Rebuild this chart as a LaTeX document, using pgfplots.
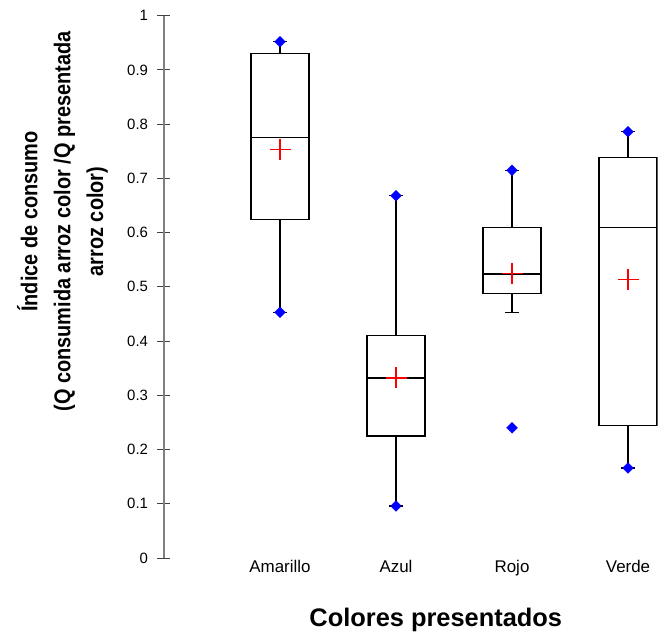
\documentclass[border=0pt]{standalone}
\usepackage{fontspec}
\setmainfont{Liberation Sans}
\newfontfamily\ylabfont{Liberation Sans}[FakeStretch=0.87]
\usepackage{pgfplots}
\pgfplotsset{compat=1.18}
\usepgfplotslibrary{statistics}

\begin{document}
\begin{tikzpicture}
\begin{axis}[
  scale only axis, width=493.6bp, height=542.3bp,
  xmin=0, xmax=4.255, ymin=0, ymax=1,
  axis lines=left, axis line style={-},
  x axis line style={draw=none},
  y axis line style={draw=black!50, line width=1.3bp},
  xtick={1,2,3,4}, xticklabels={Amarillo,Azul,Rojo,Verde},
  xtick style={draw=none},
  ytick={0,0.1,0.2,0.3,0.4,0.5,0.6,0.7,0.8,0.9,1},
  tick align=center, major tick length=13bp,
  ytick style={black!75, line width=0.9bp},
  /pgf/number format/assume math mode=true,
  yticklabel style={font=\fontsize{15}{15}\selectfont, xshift=-6bp},
  xticklabel style={font=\fontsize{17}{17}\selectfont, anchor=base, yshift=-8bp},
  xlabel={Colores presentados},
  xlabel style={at={([yshift=-68.7bp]axis description cs:0.5506,0)}, anchor=base, font=\bfseries\fontsize{25.5}{25.5}\selectfont},
  ylabel={Índice de consumo\\(Q consumida arroz color /Q presentada\\arroz color)},
  ylabel style={at={([xshift=-101.5bp]axis description cs:0,0.6205)}, anchor=center, align=center, font=\ylabfont\bfseries\fontsize{23}{33}\selectfont},
  boxplot/draw direction=y,
]
\coordinate (O) at (axis cs:0,0);
% Amarillo
\addplot[draw=black, line width=1.4bp, solid, mark=none, boxplot prepared={draw position=1, lower whisker=0.453, lower quartile=0.624, median=0.775, upper quartile=0.930, upper whisker=0.952, box extend=0.5, whisker extend=0.12}] coordinates {};
% Azul
\addplot[draw=black, line width=1.4bp, solid, mark=none, boxplot prepared={draw position=2, lower whisker=0.096, lower quartile=0.225, median=0.332, upper quartile=0.410, upper whisker=0.668, box extend=0.5, whisker extend=0.12}] coordinates {};
% Rojo
\addplot[draw=black, line width=1.4bp, solid, mark=none, boxplot prepared={draw position=3, lower whisker=0.453, lower quartile=0.488, median=0.524, upper quartile=0.609, upper whisker=0.715, box extend=0.5, whisker extend=0.12}] coordinates {};
% Verde
\addplot[draw=black, line width=1.4bp, solid, mark=none, boxplot prepared={draw position=4, lower whisker=0.166, lower quartile=0.244, median=0.609, upper quartile=0.738, upper whisker=0.786, box extend=0.5, whisker extend=0.12}] coordinates {};
% minimos, maximos y atipicos
\addplot[only marks, mark=square*, mark size=3.8bp, mark options={rotate=45, fill=blue, draw=blue}]
  coordinates {(1,0.952) (1,0.453) (2,0.668) (2,0.096) (3,0.715) (3,0.240) (4,0.786) (4,0.166)};
% medias
\addplot[only marks, mark=+, mark size=10.5bp, mark options={draw=red, line width=1.3bp}]
  coordinates {(1,0.753) (2,0.332) (3,0.524) (4,0.513)};
\end{axis}
\pgfresetboundingbox
\path (O) ++(-164bp,-79bp) rectangle ++(658bp,637bp);
\end{tikzpicture}
\end{document}
